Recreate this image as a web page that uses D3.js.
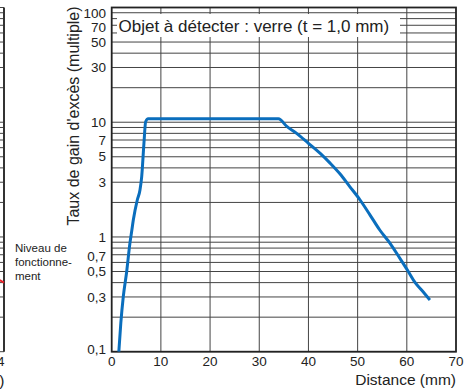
<!DOCTYPE html>
<html lang="fr">
    <head>
        <meta charset="utf-8">
        <title>Taux de gain d'excès</title>
        <script src="https://d3js.org/d3.v7.min.js"></script>
        <style type="text/css">
            body { margin: 0; background: white; }
            svg { display: block; font-family: "Liberation Sans", Arial, sans-serif; }
            .grid line { stroke: #444; stroke-width: 1px; }
            .tick-label { font-size: 13.5px; fill: #222; }
            .curve { fill: none; stroke: #0a6ebd; stroke-width: 3px; stroke-linejoin: round; }
        </style>
    </head>
    <body>
        <script type="text/javascript">

            // data
            const distance = [1.45, 1.85, 2.35, 3.05, 3.7, 4.1, 4.4, 5.2, 5.75, 6.1, 6.55, 6.9, 7.4,
                              33.9, 35.6, 37.6, 40, 42.4, 44.4, 46.4, 48.4, 50.5, 52.5, 54.5, 56.6,
                              58.6, 60.3, 61.7, 63, 64.7];
            const gain = [0.1, 0.177, 0.3, 0.5, 0.88, 1.15, 1.41, 2.1, 2.57, 3.36, 6.5, 10.1, 10.7,
                          10.7, 9.2, 8.0, 6.55, 5.35, 4.4, 3.55, 2.75, 2.1, 1.56, 1.15, 0.88,
                          0.65, 0.5, 0.4, 0.345, 0.282];
            const xTicks = [0, 10, 20, 30, 40, 50, 60, 70];
            const yTicks = [0.1, 0.3, 0.5, 0.7, 1, 3, 5, 7, 10, 30, 50, 70, 100];
            const yTickLabels = ["0,1", "0,3", "0,5", "0,7", "1", "3", "5", "7", "10", "30", "50", "70", "100"];
            const yGrid = [0.1, 0.2, 0.3, 0.4, 0.5, 0.6, 0.7, 0.8, 0.9,
                           1, 2, 3, 4, 5, 6, 7, 8, 9,
                           10, 20, 30, 40, 50, 60, 70, 80, 90, 100];
            // cut-off neighbour chart on the left edge
            const leftX = [3.95, 4];
            const leftY = [0.42, 0.40];

            const w = 464;
            const h = 392;

            const svg = d3.select("body")
                .append("svg")
                .attr("width", w)
                .attr("height", h);

            const xScale = d3.scaleLinear().domain([0, 70]).range([111.7, 456]);
            const yScale = d3.scaleLog().domain([0.1, 100]).range([351.7, 7.5]);
            const xLeft = d3.scaleLinear().domain([0, 4]).range([-340, 4]);

            // grid of the main chart
            const grid = svg.append("g").attr("class", "grid");
            grid.selectAll(".hg")
                .data(yGrid)
                .join("line")
                .attr("x1", xScale(0)).attr("x2", xScale(70))
                .attr("y1", d => yScale(d)).attr("y2", d => yScale(d));
            grid.selectAll(".vg")
                .data(xTicks.slice(1, -1))
                .join("line")
                .attr("x1", d => xScale(d)).attr("x2", d => xScale(d))
                .attr("y1", yScale(0.1)).attr("y2", yScale(100));

            // grid of the neighbour chart
            const gridL = svg.append("g").attr("class", "grid");
            gridL.selectAll("line")
                .data(yGrid)
                .join("line")
                .attr("x1", 0).attr("x2", xLeft(4))
                .attr("y1", d => yScale(d)).attr("y2", d => yScale(d));
            svg.append("line")
                .attr("x1", xLeft(4)).attr("x2", xLeft(4))
                .attr("y1", yScale(100)).attr("y2", yScale(0.1))
                .attr("stroke", "#333").attr("stroke-width", 2);
            svg.append("path")
                .datum(leftX.map((d, i) => [d, leftY[i]]))
                .attr("fill", "none")
                .attr("stroke", "#e8232a")
                .attr("stroke-width", 2)
                .attr("d", d3.line().x(d => xLeft(d[0])).y(d => yScale(d[1])));
            svg.append("text")
                .attr("class", "tick-label")
                .attr("x", xLeft(4) + 0.5).attr("y", 366)
                .attr("text-anchor", "end")
                .text("4");
            svg.append("text")
                .attr("x", xLeft(4) + 0.5).attr("y", 386)
                .attr("text-anchor", "end")
                .attr("font-size", "15.5px")
                .attr("fill", "#222")
                .text(")");

            // frame
            svg.append("rect")
                .attr("x", xScale(0)).attr("y", yScale(100))
                .attr("width", xScale(70) - xScale(0))
                .attr("height", yScale(0.1) - yScale(100))
                .attr("fill", "none")
                .attr("stroke", "#222")
                .attr("stroke-width", 1.8);

            // label box
            svg.append("rect")
                .attr("x", 117).attr("y", 14)
                .attr("width", 283).attr("height", 23)
                .attr("fill", "white");
            svg.append("text")
                .attr("x", 118.5).attr("y", 31.5)
                .attr("font-size", "17px")
                .attr("fill", "#222")
                .text("Objet à détecter : verre (t = 1,0 mm)");

            // curve
            svg.append("path")
                .datum(distance.map((d, i) => [d, gain[i]]))
                .attr("class", "curve")
                .attr("d", d3.line()
                    .curve(d3.curveMonotoneX)
                    .x(d => xScale(d[0]))
                    .y(d => yScale(d[1])));

            // tick labels
            svg.selectAll(".xl")
                .data(xTicks)
                .join("text")
                .attr("class", "tick-label")
                .attr("x", d => xScale(d))
                .attr("y", 366)
                .attr("text-anchor", "middle")
                .text(d => d);

            const yOffset = {"100": 10.5, "70": 6.3, "0.7": 6.5, "0.1": 2};
            svg.selectAll(".yl")
                .data(yTicks)
                .join("text")
                .attr("class", "tick-label")
                .attr("x", 106)
                .attr("y", d => yScale(d) + (yOffset[d] !== undefined ? yOffset[d] : 4.7))
                .attr("text-anchor", "end")
                .text((d, i) => yTickLabels[i]);

            // axis titles
            svg.append("text")
                .attr("x", 456).attr("y", 385)
                .attr("text-anchor", "end")
                .attr("font-size", "15.5px")
                .attr("fill", "#222")
                .text("Distance (mm)");
            svg.append("text")
                .attr("transform", "translate(79,116) rotate(-90)")
                .attr("text-anchor", "middle")
                .attr("font-size", "16px")
                .attr("fill", "#222")
                .text("Taux de gain d'excès (multiple)");

            svg.append("text")
                .attr("x", 15).attr("y", 252)
                .attr("font-size", "11.5px")
                .attr("fill", "#222")
                .selectAll("tspan")
                .data(["Niveau de", "fonctionne-", "ment"])
                .join("tspan")
                .attr("x", 15)
                .attr("dy", (d, i) => i == 0 ? 0 : 14)
                .text(d => d);

        </script>
    </body>
</html>
